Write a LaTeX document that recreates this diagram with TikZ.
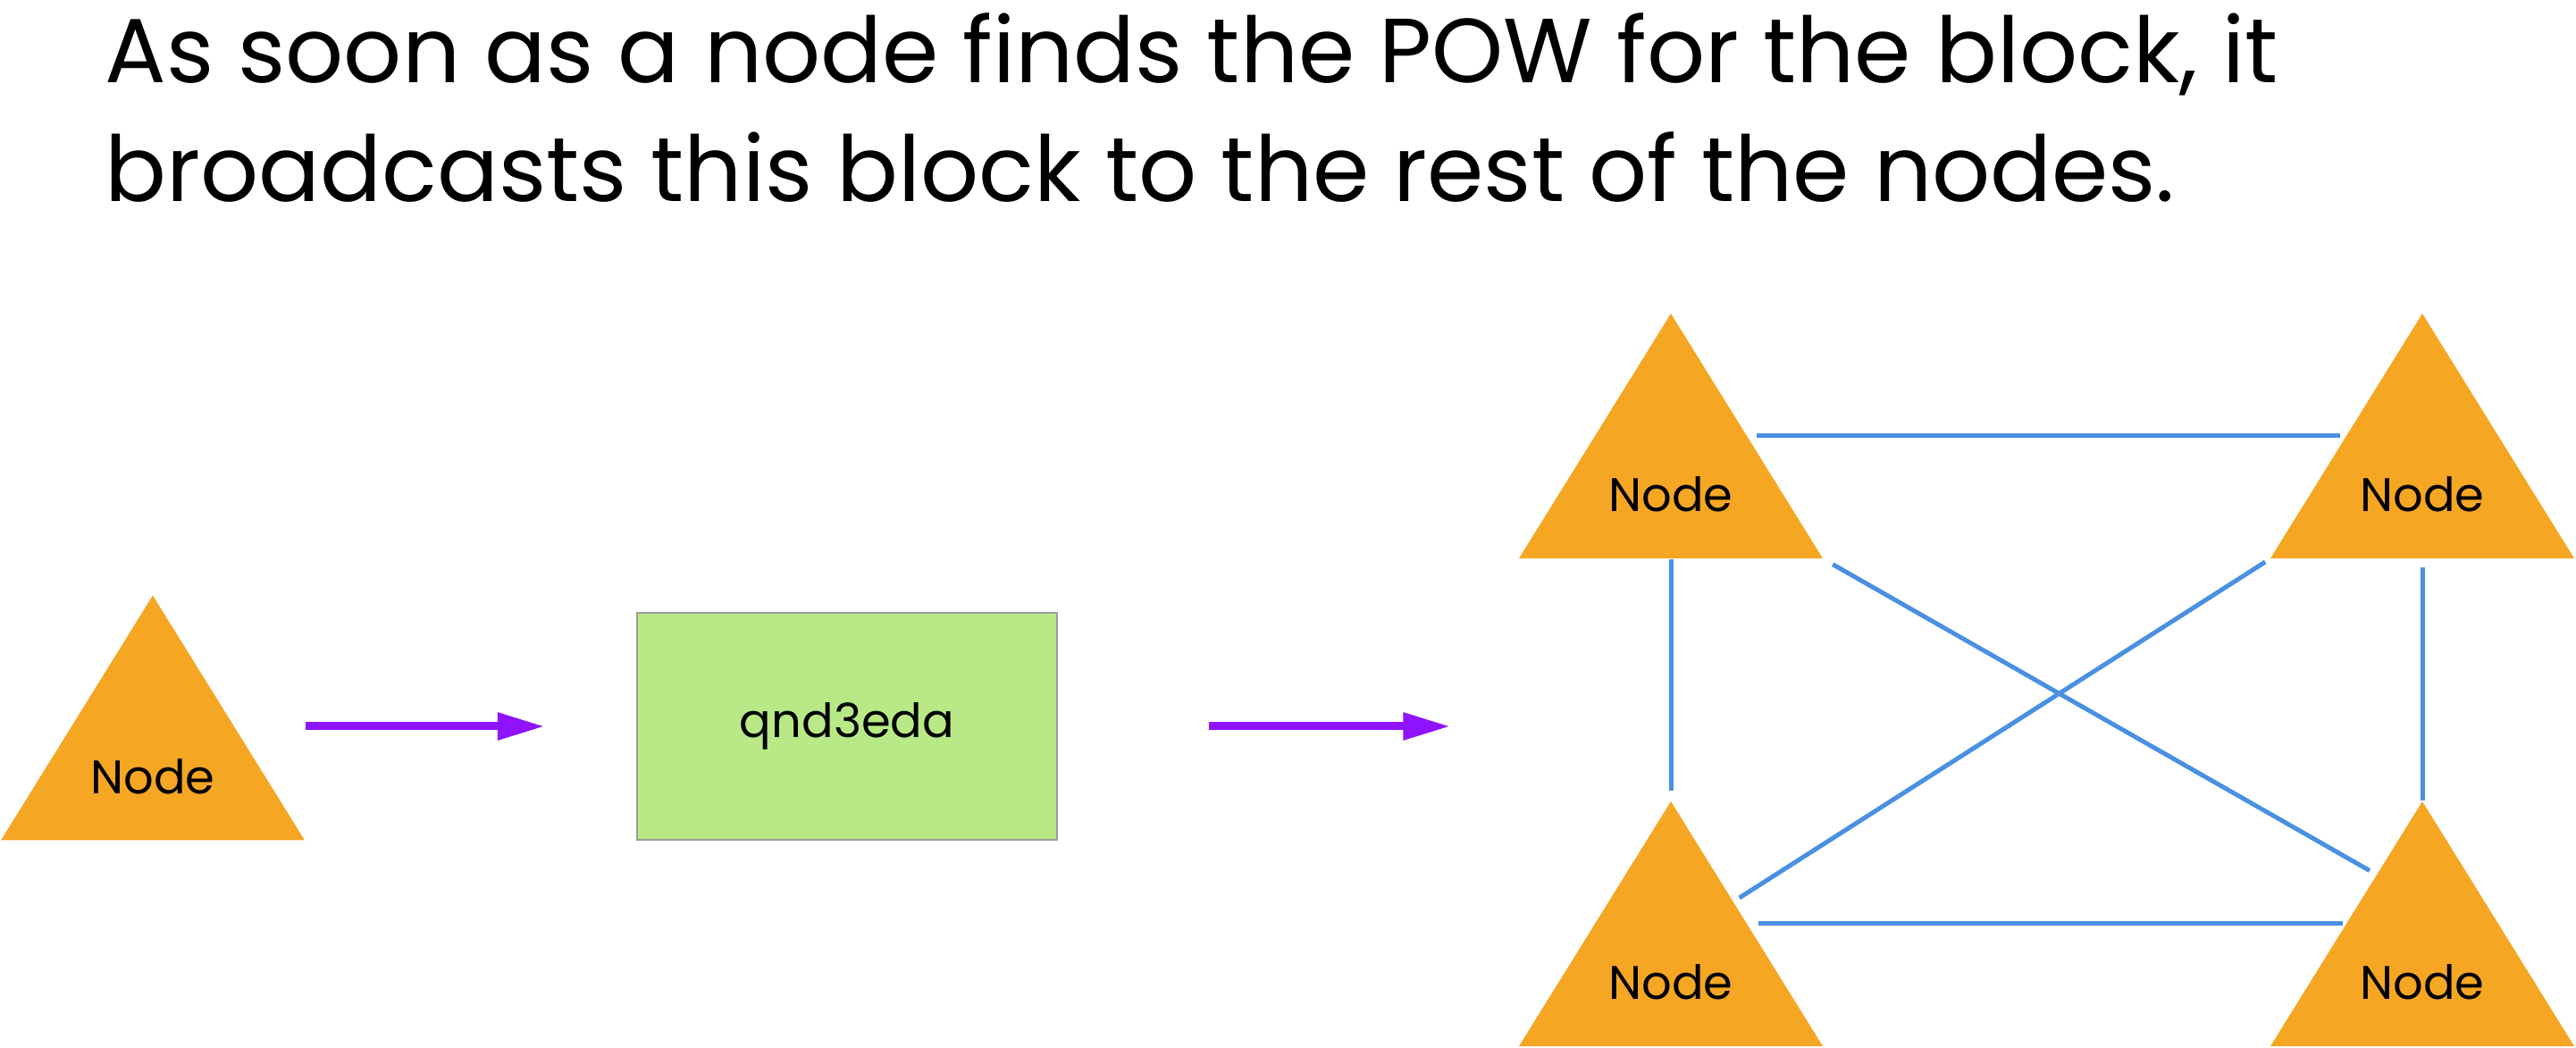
\documentclass[tikz,border=0pt]{standalone}
\usepackage{fontspec}
\setmainfont{Poppins}
\usetikzlibrary{arrows.meta,calc}

\definecolor{peerorange}{HTML}{F5A623}
\definecolor{linkblue}{HTML}{4A90E2}
\definecolor{pushpurple}{HTML}{9013FE}
\definecolor{blockgreen}{HTML}{B8E986}
\definecolor{blockgray}{HTML}{9B9B9B}

\begin{document}
\begin{tikzpicture}[font=\fontsize{15}{18}\selectfont]

\tikzstyle{peer} = [rectangle, inner sep=0pt, minimum width=3.4cm, minimum height=2.74cm,
  text height=1.7cm, text depth=0pt,
  path picture={\fill[peerorange] (path picture bounding box.north)
    -- (path picture bounding box.south west) -- (path picture bounding box.south east) -- cycle;}]
\tikzstyle{block} = [draw=blockgray, line width=0.025cm, fill=blockgreen, minimum width=4.7cm, minimum height=2.54cm]
\tikzstyle{link} = [draw=linkblue, line width=0.05cm]
\tikzstyle{push} = [draw=pushpurple, line width=0.09cm, -{Triangle[length=0.53cm, width=0.29cm]}]

\useasboundingbox (0, 0) rectangle (28.83, -11.73);

% --- title
\node[anchor=north west, align=left, font=\fontsize{29}{37.8}\selectfont] (title) at (1.05, -0.02)
  {As soon as a node finds the POW for the block, it\\broadcasts this block to the rest of the nodes.};

% --- miner and its block
\node[peer] (src) at (1.71, -8.035) {Node};
\node[block] (blk) at (9.48, -8.13) {qnd3eda};

% --- network
\node[peer] (tl) at (18.70, -4.88) {Node};
\node[peer] (tr) at (27.11, -4.88) {Node};
\node[peer] (bl) at (18.70, -10.34) {Node};
\node[peer] (br) at (27.11, -10.34) {Node};

% broadcast arrows
\draw[push, yshift=0.5mm, shorten >=1.02cm] (src.south east |- blk.west) -- (blk.west);
\draw[push, yshift=0.8mm, shorten <=1.69cm, shorten >=0.76cm] (blk.east) -- (tl.south west |- blk.east);

% peer links
\draw[link, shorten <=0.11cm, shorten >=0.07cm] ($(tl.north)!0.5!(tl.south east)$) -- ($(tr.north)!0.5!(tr.south west)$);
\draw[link, shorten <=0.13cm, shorten >=0.04cm] ($(bl.north)!0.5!(bl.south east)$) -- ($(br.north)!0.5!(br.south west)$);
\draw[link, shorten >=0.11cm] (tl.south) -- (bl.north);
\draw[link, shorten <=0.09cm] (tr.south) -- (br.north);
\draw[link, shorten <=0.12cm, shorten >=0.09cm] (tl.south east) -- ($(br.north)!0.3!(br.south west)$);
\draw[link, shorten <=0.06cm, shorten >=0.08cm] (tr.south west) -- ($(bl.north)!0.41!(bl.south east)$);

\end{tikzpicture}
\end{document}
